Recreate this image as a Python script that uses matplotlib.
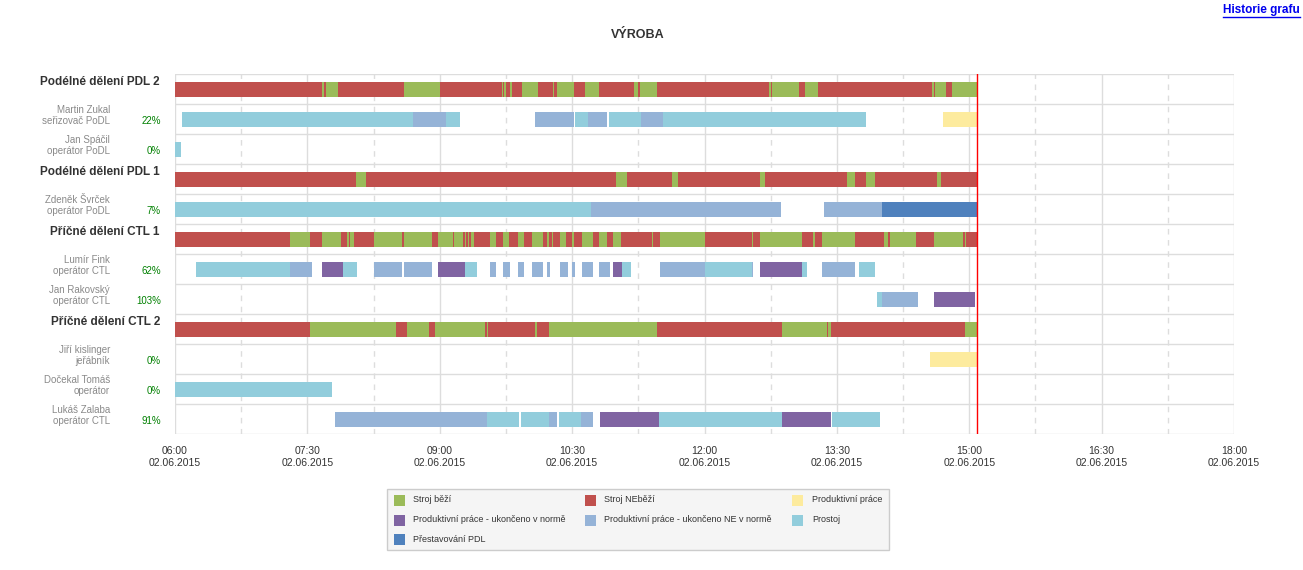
import matplotlib
matplotlib.use('Agg')
import matplotlib.pyplot as plt
from matplotlib.patches import Rectangle
from matplotlib.lines import Line2D
import numpy as np

plt.rcParams['font.family'] = ['Liberation Sans', 'DejaVu Sans']

# ---------------------------------------------------------------
# data (times on 02.06.2015)
# machine rows: state changes, R = Stroj NEběží, G = Stroj běží
pdl2_breaks = ["06:00", "07:40", "07:41", "07:43", "07:51", "08:36", "09:00", "09:42",
               "09:43", "09:44", "09:45", "09:48", "09:49", "09:56", "10:07", "10:17",
               "10:18", "10:20", "10:31", "10:39", "10:48", "11:12", "11:15", "11:16",
               "11:28", "12:44", "12:45", "12:46", "13:04", "13:08", "13:17", "14:35",
               "14:36", "14:37", "14:44", "14:48", "15:05"]
pdl2_states = "RGRGRGRGRG" "RGRGRGRGRG" "RGRGRGRGRG" "RGRGRG"

pdl1_breaks = ["06:00", "08:03", "08:10", "11:00", "11:07", "11:38", "11:42", "12:38",
               "12:41", "13:37", "13:42", "13:50", "13:56", "14:38", "14:41", "15:05"]
pdl1_states = "RGRGRGRGRGRGRGR"

ctl1_breaks = ["06:00", "07:18", "07:32", "07:40", "07:53", "07:57", "07:58", "07:59",
               "08:02", "08:15", "08:34", "08:36", "08:55", "08:59", "09:09", "09:10",
               "09:16", "09:17", "09:18", "09:19", "09:20", "09:21", "09:23", "09:34",
               "09:38", "09:43", "09:47", "09:53", "09:57", "10:03", "10:10", "10:13",
               "10:14", "10:16", "10:17", "10:22", "10:26", "10:30", "10:31", "10:37",
               "10:44", "10:48", "10:54", "10:58", "11:03", "11:24", "11:25", "11:30",
               "12:00", "12:32", "12:33", "12:38", "13:06", "13:14", "13:15", "13:20",
               "13:42", "14:02", "14:05", "14:06", "14:24", "14:36", "14:56", "14:57",
               "14:58", "15:05"]
ctl1_states = "RGRGRGRGRG" "RGRGRGRGRG" "RGRGRGRGRG" "RGRGRGRGRG" "RGRGRGRGRG" "RGRGRGRGRG" "RGRGR"

ctl2_breaks = ["06:00", "07:32", "08:30", "08:38", "08:53", "08:57", "09:31", "09:32",
               "09:33", "10:05", "10:06", "10:14", "11:28", "12:53", "13:23", "13:24",
               "13:26", "14:57", "15:05"]
ctl2_states = "RGRGRGRGRGRGRGRGRG"

# operator rows: (start, end, state)
# Y = produktivní práce, U = ukončeno v normě, N = ukončeno NE v normě,
# P = prostoj, D = přestavování PDL
zukal = [("06:05", "08:42", "P"), ("08:42", "09:04", "N"), ("09:04", "09:14", "P"),
         ("10:05", "10:31", "N"), ("10:32", "10:41", "P"), ("10:41", "10:54", "N"),
         ("10:55", "11:17", "P"), ("11:17", "11:32", "N"), ("11:32", "13:50", "P"),
         ("14:42", "15:05", "Y")]
spacil = [("06:00", "06:04", "P")]
svrcek = [("06:00", "10:43", "P"), ("10:43", "12:52", "N"), ("13:21", "14:01", "N"),
          ("14:01", "15:05", "D")]
fink = [("06:14", "07:18", "P"), ("07:18", "07:33", "N"), ("07:40", "07:54", "U"),
        ("07:54", "08:04", "P"), ("08:15", "08:34", "N"), ("08:36", "08:55", "N"),
        ("08:59", "09:17", "U"), ("09:17", "09:25", "P"), ("09:34", "09:38", "N"),
        ("09:43", "09:48", "N"), ("09:53", "09:57", "N"), ("10:03", "10:10", "N"),
        ("10:13", "10:15", "N"), ("10:22", "10:27", "N"), ("10:30", "10:32", "N"),
        ("10:37", "10:44", "N"), ("10:48", "10:56", "N"), ("10:58", "11:04", "U"),
        ("11:04", "11:10", "P"), ("11:30", "12:00", "N"), ("12:00", "12:32", "P"),
        ("12:32", "12:33", "N"), ("12:38", "13:06", "U"), ("13:06", "13:10", "P"),
        ("13:20", "13:42", "N"), ("13:45", "13:56", "P")]
rakovsky = [("13:57", "14:01", "P"), ("14:01", "14:25", "N"), ("14:36", "15:04", "U")]
kislinger = [("14:33", "15:05", "Y")]
docekal = [("06:00", "07:47", "P")]
zalaba = [("07:49", "09:32", "N"), ("09:32", "09:54", "P"), ("09:55", "10:14", "P"),
          ("10:14", "10:20", "N"), ("10:21", "10:36", "P"), ("10:36", "10:44", "N"),
          ("10:49", "11:29", "U"), ("11:29", "12:53", "P"), ("12:53", "13:26", "U"),
          ("13:27", "13:59", "P")]

row_names = ["Podélné dělení PDL 2", "Martin Zukal", "Jan Spáčil", "Podélné dělení PDL 1",
             "Zdeněk Švrček", "Příčné dělení CTL 1", "Lumír Fink", "Jan Rakovský",
             "Příčné dělení CTL 2", "Jiří kislinger", "Dočekal Tomáš", "Lukáš Zalaba"]
row_roles = [None, "seřizovač PoDL", "operátor PoDL", None, "operátor PoDL", None,
             "operátor CTL", "operátor CTL", None, "jeřábník", "operátor", "operátor CTL"]
row_pcts = [None, "22%", "0%", None, "7%", None, "62%", "103%", None, "0%", "0%", "91%"]

now_time = "15:05"

xticks = [6, 7.5, 9, 10.5, 12, 13.5, 15, 16.5, 18]
day_label = "02.06.2015"

legend_codes = ["G", "R", "Y", "U", "N", "P", "D"]
legend_names = ["Stroj běží", "Stroj NEběží", "Produktivní práce",
                "Produktivní práce - ukončeno v normě",
                "Produktivní práce - ukončeno NE v normě", "Prostoj",
                "Přestavování PDL"]
colors = {"G": "#9BBB59", "R": "#C0504D", "Y": "#FDEB9E", "U": "#8064A2",
          "N": "#95B3D7", "P": "#92CDDC", "D": "#4F81BD"}


def hrs(s):
    h, m = s.split(":")
    return int(h) + int(m) / 60.0


def from_breaks(breaks, states):
    return [(a, b, c) for a, b, c in zip(breaks[:-1], breaks[1:], states)]


row_segments = [from_breaks(pdl2_breaks, pdl2_states), zukal, spacil,
                from_breaks(pdl1_breaks, pdl1_states), svrcek,
                from_breaks(ctl1_breaks, ctl1_states), fink, rakovsky,
                from_breaks(ctl2_breaks, ctl2_states), kislinger, docekal, zalaba]

# ---------------------------------------------------------------
W, H = 1303, 570
fig = plt.figure(figsize=(W / 100, H / 100), dpi=100)
fig.patch.set_facecolor('white')
ax = fig.add_axes([175 / W, 1 - 434 / H, 1059 / W, 360 / H])

nrows = len(row_names)
for i, segs in enumerate(row_segments):
    for a, b, c in segs:
        ax.barh(i + 0.5, hrs(b) - hrs(a), left=hrs(a), height=0.5,
                color=colors[c], linewidth=0, zorder=2)

ax.set_xlim(6, 18)
ax.set_ylim(nrows, 0)

# grid
ax.set_xticks(xticks)
ax.set_xticks([x + 0.75 for x in xticks[:-1]], minor=True)
ax.set_xticklabels(["%02d:%02d\n%s" % (int(x), round((x % 1) * 60), day_label) for x in xticks],
                   fontsize=7.5, color='#333333', linespacing=1.2)
ax.set_yticks(np.arange(nrows + 1))
ax.set_yticklabels([])
ax.tick_params(axis='both', which='both', length=0)
ax.tick_params(axis='x', pad=9)
ax.grid(True, which='major', axis='x', color='#DDDDDD', lw=1, zorder=0)
ax.grid(True, which='minor', axis='x', color='#DDDDDD', lw=1, ls=(0, (4, 4)), zorder=0)
ax.grid(True, which='major', axis='y', color='#DDDDDD', lw=1, zorder=0)
for sp in ax.spines.values():
    sp.set_visible(False)

ax.axvline(hrs(now_time), color='red', lw=1, zorder=3)

# row labels
tr = ax.get_yaxis_transform()
for i in range(nrows):
    if row_roles[i] is None:
        ax.text(-15 / 1059, i + 0.27, row_names[i], transform=tr, ha='right', va='center',
                fontsize=8.5, weight='bold', color='#333333')
    else:
        ax.text(-65 / 1059, i + 0.21, row_names[i], transform=tr, ha='right', va='center',
                fontsize=7, color='#8A8A8A')
        ax.text(-65 / 1059, i + 0.57, row_roles[i], transform=tr, ha='right', va='center',
                fontsize=7, color='#8A8A8A')
        ax.text(-14 / 1059, i + 0.57, row_pcts[i], transform=tr, ha='right', va='center',
                fontsize=7, color='#008000')

# title and link
fig.text(638 / W, 1 - 35 / H, "VÝROBA", ha='center', va='center', fontsize=9,
         weight='bold', color='#333333')
link = fig.text(1300 / W, 1 - 10 / H, "Historie grafu", ha='right', va='center',
                fontsize=8.5, weight='bold', color='#0000EE')
fig.canvas.draw()
bb = link.get_window_extent(fig.canvas.get_renderer())
fig.add_artist(Line2D([bb.x0 / W, bb.x1 / W], [(bb.y0 - 1) / H, (bb.y0 - 1) / H],
                      transform=fig.transFigure, color='#0000EE', lw=1))

# legend box
fig.add_artist(Rectangle((387 / W, 1 - 550 / H), (889 - 387) / W, (550 - 489) / H,
                         transform=fig.transFigure, facecolor='#F5F5F5',
                         edgecolor='#CCCCCC', lw=1))
col_marker = [394, 585, 792]
col_text = [413, 604, 812]
row_y = [500, 520, 539]
for k, (code, name) in enumerate(zip(legend_codes, legend_names)):
    r, c = divmod(k, 3)
    fig.add_artist(Rectangle((col_marker[c] / W, 1 - (row_y[r] + 5.5) / H), 11 / W, 11 / H,
                             transform=fig.transFigure, facecolor=colors[code], lw=0))
    fig.text(col_text[c] / W, 1 - row_y[r] / H, name, ha='left', va='center',
             fontsize=6.5, color='#333333')

fig.savefig('out.png', dpi=100)
